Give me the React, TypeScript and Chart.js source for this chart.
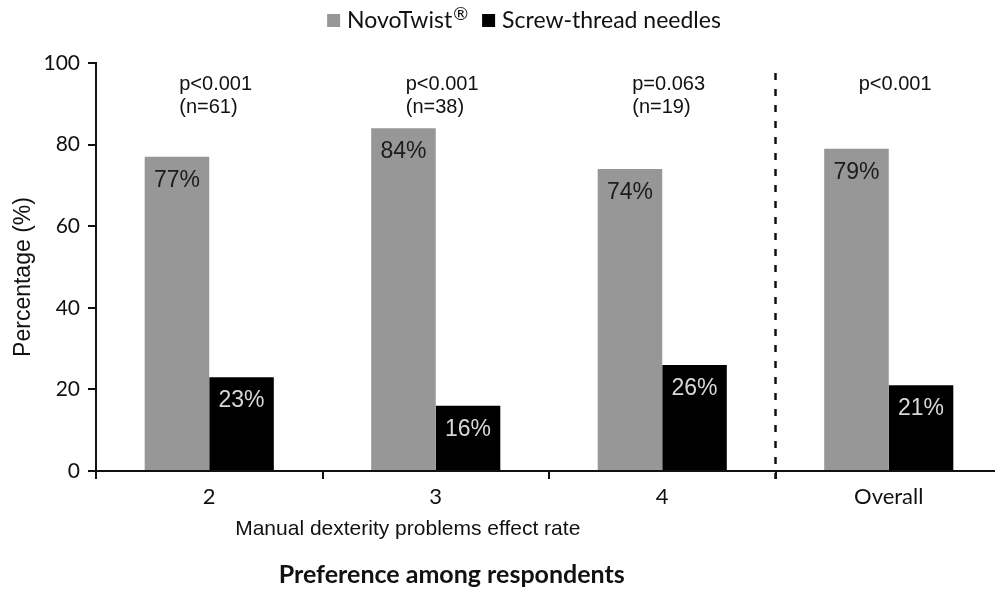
import React, { useEffect, useRef } from "react";
import { Chart, registerables } from "chart.js";

Chart.register(...registerables);

const categories = ["2", "3", "4", "Overall"];
const novoTwist = [77, 84, 74, 79];
const screwThread = [23, 16, 26, 21];
const pValues = ["p<0.001", "p<0.001", "p=0.063", "p<0.001"];
const nCounts = ["(n=61)", "(n=38)", "(n=19)", ""];
const yTicks = [0, 20, 40, 60, 80, 100];
const seriesNames = ["NovoTwist", "Screw-thread needles"];
const seriesSup = ["®", ""];
const seriesColors = ["#979797", "#000000"];
const valueLabelColors = ["#1c1c1c", "#d8d8d8"];
const yAxisTitle = "Percentage (%)";
const xAxisTitle = "Manual dexterity problems effect rate";
const chartTitle = "Preference among respondents";

const CAL = "Lato, 'Open Sans', sans-serif";
const ARIAL = "'Liberation Sans', Arial, sans-serif";

const annotations = {
  id: "annotations",
  afterDraw(chart: any) {
    const ctx = chart.ctx as CanvasRenderingContext2D;
    const x = chart.scales.x;
    const y = chart.scales.y;
    const area = chart.chartArea;
    ctx.save();

    // value labels inside bars
    chart.data.datasets.forEach((ds: any, di: number) => {
      const meta = chart.getDatasetMeta(di);
      meta.data.forEach((bar: any, i: number) => {
        ctx.font = `23px ${ARIAL}`;
        ctx.fillStyle = valueLabelColors[di];
        ctx.textAlign = "center";
        ctx.textBaseline = "alphabetic";
        ctx.fillText(`${ds.data[i]}%`, bar.x, bar.y + 30);
      });
    });

    // p-values and n
    const top = y.getPixelForValue(100);
    ctx.font = `20px ${ARIAL}`;
    ctx.fillStyle = "#111";
    ctx.textAlign = "left";
    categories.forEach((_c, i) => {
      const cx = x.getPixelForValue(i);
      ctx.fillText(pValues[i], cx - 30, top + 27);
      if (nCounts[i]) ctx.fillText(nCounts[i], cx - 30, top + 50);
    });

    // dashed separator
    const sx = x.getPixelForValue(2.5);
    ctx.beginPath();
    ctx.setLineDash([7, 9]);
    ctx.lineWidth = 2.5;
    ctx.strokeStyle = "#111";
    ctx.moveTo(sx, top + 10);
    ctx.lineTo(sx, area.bottom + 8);
    ctx.stroke();
    ctx.setLineDash([]);

    // y axis title
    ctx.save();
    ctx.translate(24, y.getPixelForValue(50) + 10);
    ctx.rotate(-Math.PI / 2);
    ctx.font = `23px ${ARIAL}`;
    ctx.fillStyle = "#111";
    ctx.textAlign = "center";
    ctx.textBaseline = "middle";
    ctx.fillText(yAxisTitle, 0, 0);
    ctx.restore();

    // x axis title
    ctx.font = `21px ${ARIAL}`;
    ctx.fillStyle = "#111";
    ctx.textAlign = "center";
    ctx.textBaseline = "alphabetic";
    ctx.fillText(xAxisTitle, x.getPixelForValue(1) - 28, area.bottom + 64);

    // main title
    ctx.font = `bold 25px ${CAL}`;
    ctx.fillText(chartTitle, x.getPixelForValue(1) + 16, area.bottom + 112);

    // legend
    const mainFont = `23px ${CAL}`;
    const supFont = `18px ${CAL}`;
    const box = 13;
    const gapBox = 7;
    const gapItem = 14;
    const widths = seriesNames.map((n, i) => {
      ctx.font = mainFont;
      const w1 = ctx.measureText(n).width;
      ctx.font = supFont;
      const w2 = seriesSup[i] ? ctx.measureText(seriesSup[i]).width + 1 : 0;
      return box + gapBox + w1 + w2;
    });
    const total = widths.reduce((a, b) => a + b, 0) + gapItem * (widths.length - 1);
    let lx = x.getPixelForValue(1.5) - 25 - total / 2;
    const baseY = 28;
    seriesNames.forEach((n, i) => {
      ctx.fillStyle = seriesColors[i];
      ctx.fillRect(lx, baseY - 14, box, box);
      ctx.fillStyle = "#111";
      ctx.textAlign = "left";
      ctx.font = mainFont;
      const tx = lx + box + gapBox;
      ctx.fillText(n, tx, baseY);
      const w1 = ctx.measureText(n).width;
      if (seriesSup[i]) {
        ctx.font = supFont;
        ctx.fillText(seriesSup[i], tx + w1 + 1, baseY - 8);
      }
      lx += widths[i] + gapItem;
    });

    ctx.restore();
  },
};

export default function App() {
  const ref = useRef<HTMLCanvasElement | null>(null);
  useEffect(() => {
    if (!ref.current) return;
    const chart = new Chart(ref.current, {
      type: "bar",
      data: {
        labels: categories,
        datasets: [
          {
            label: seriesNames[0] + seriesSup[0],
            data: novoTwist,
            backgroundColor: seriesColors[0],
            borderWidth: 0,
            categoryPercentage: 0.57,
            barPercentage: 1.0,
          },
          {
            label: seriesNames[1],
            data: screwThread,
            backgroundColor: seriesColors[1],
            borderWidth: 0,
            categoryPercentage: 0.57,
            barPercentage: 1.0,
          },
        ],
      },
      options: {
        animation: false,
        responsive: false,
        maintainAspectRatio: false,
        devicePixelRatio: 1,
        layout: { padding: { top: 63, right: 8, left: 0, bottom: 0 } },
        plugins: {
          legend: { display: false },
          tooltip: { enabled: false },
          title: { display: false },
        },
        scales: {
          x: {
            offset: true,
            grid: {
              offset: true,
              drawOnChartArea: false,
              drawTicks: true,
              tickLength: 8,
              color: "#111",
              lineWidth: 2,
            },
            border: { display: true, color: "#111", width: 2 },
            ticks: {
              font: { family: CAL, size: 22 },
              color: "#111",
              padding: 5,
              maxRotation: 0,
            },
            afterFit: (s: any) => {
              s.height = 118;
            },
          },
          y: {
            min: 0,
            max: 100,
            grid: {
              drawOnChartArea: false,
              drawTicks: true,
              tickLength: 8,
              color: "#111",
              lineWidth: 2,
            },
            border: { display: true, color: "#111", width: 2 },
            ticks: {
              font: { family: CAL, size: 21 },
              color: "#111",
              padding: 8,
            },
            afterBuildTicks: (s: any) => {
              s.ticks = yTicks.map((v) => ({ value: v }));
            },
            afterFit: (s: any) => {
              s.width = 96;
            },
          },
        },
      },
      plugins: [annotations],
    });
    return () => chart.destroy();
  }, []);

  return (
    <div
      style={{
        position: "fixed",
        left: 0,
        top: 0,
        width: 995,
        height: 589,
        overflow: "hidden",
        background: "#fff",
      }}
    >
      <canvas ref={ref} width={1010} height={589} style={{ display: "block" }} />
    </div>
  );
}
